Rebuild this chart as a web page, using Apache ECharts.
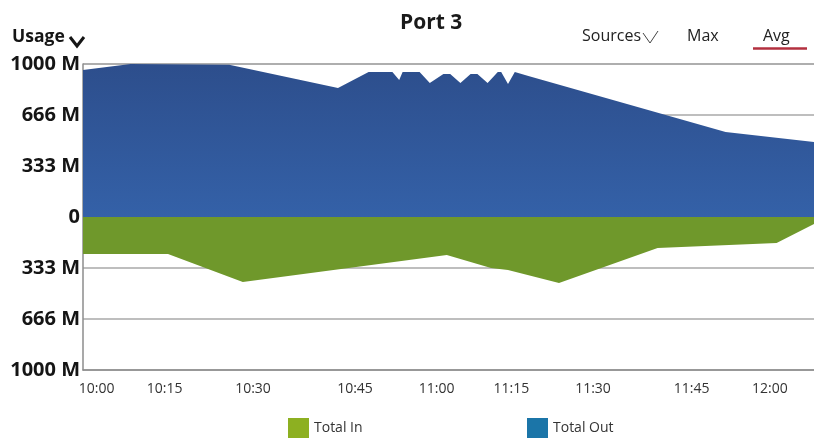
<!DOCTYPE html>
<html><head><meta charset="utf-8">
<script src="https://cdn.jsdelivr.net/npm/echarts@6/dist/echarts.min.js"></script>
<style>html,body{margin:0;padding:0;background:#fff}#c{width:814px;height:438px}</style>
</head><body><div id="c"></div>
<script>
// ---- data ----
const chartTitle = 'Port 3';
const xTickLabels = ['10:00','10:15','10:30','10:45','11:00','11:15','11:30','11:45','12:00'];
const xTickSamples = [4, 24, 50, 80, 104, 126, 150, 179, 202];
const sampleCount = 215;
const yTickLabels = ['1000 M','666 M','333 M','0','333 M','666 M','1000 M'];
const outSamples = [0, 14, 43, 75, 84, 91, 93, 94, 99, 102, 106, 108, 111, 114, 116, 119, 122, 123, 125, 127, 131, 189, 215];
const outValues  = [961, 1000, 995, 843, 948, 948, 895, 948, 948, 876, 935, 935, 876, 935, 935, 876, 948, 948, 869, 948, 922, 556, 490];
const inSamples = [0, 25, 47, 107, 120, 125, 140, 169, 204, 215];
const inValues  = [-242, -242, -425, -248, -333, -346, -431, -203, -170, -46];
const seriesNames = ['Total In', 'Total Out'];
const menuItems = ['Sources', 'Max', 'Avg'];

// ---- chart ----
const FONT = '"Open Sans", "Noto Sans", sans-serif';
const chart = echarts.init(document.getElementById('c'));
const pair = (xs, ys) => xs.map((x, i) => [x, ys[i]]);

chart.setOption({
  animation: false,
  backgroundColor: '#ffffff',
  title: {
    text: chartTitle, left: 395, top: 8,
    textStyle: { fontFamily: FONT, fontSize: 21, fontWeight: 'bold', color: '#1a1a1a' }
  },
  legend: [
    { data: [seriesNames[0]], left: 283, top: 413, icon: 'rect', itemWidth: 21, itemHeight: 20,
      textStyle: { fontFamily: FONT, fontSize: 14, color: '#333' } },
    { data: [seriesNames[1]], left: 522, top: 413, icon: 'rect', itemWidth: 21, itemHeight: 20,
      textStyle: { fontFamily: FONT, fontSize: 14, color: '#333' } }
  ],
  grid: { left: 83, right: 0, top: 64, bottom: 68, containLabel: false },
  xAxis: {
    type: 'value', min: 0, max: sampleCount,
    axisLine: { onZero: false, lineStyle: { color: '#8c8c8c', width: 1.5 } },
    axisTick: { show: false },
    splitLine: { show: false },
    axisLabel: {
      customValues: xTickSamples,
      formatter: v => xTickLabels[xTickSamples.indexOf(v)] || '',
      fontFamily: FONT, fontSize: 14, color: '#333', margin: 12
    }
  },
  yAxis: {
    type: 'value', min: -1000, max: 1000, interval: 1000 / 3,
    axisLine: { show: true, lineStyle: { color: '#8c8c8c', width: 1.5 } },
    axisTick: { show: false },
    splitLine: { show: true, lineStyle: { color: '#a8a8a8', width: 1.5 } },
    axisLabel: {
      formatter: v => yTickLabels[3 - Math.round(v * 3 / 1000)],
      fontFamily: FONT, fontSize: 20, fontWeight: 'bold', color: '#151515', margin: 3
    }
  },
  series: [
    { name: seriesNames[0], type: 'line', data: pair(inSamples, inValues), symbol: 'none',
      lineStyle: { width: 0 }, itemStyle: { color: '#8db021' },
      areaStyle: { color: '#6f982b', opacity: 1 }, z: 3 },
    { name: seriesNames[1], type: 'line', data: pair(outSamples, outValues), symbol: 'none',
      lineStyle: { width: 0 }, itemStyle: { color: '#1b75a8' },
      areaStyle: { opacity: 1, color: new echarts.graphic.LinearGradient(0, 0, 0, 1, [
        { offset: 0, color: '#2d4e8c' }, { offset: 1, color: '#3461a8' }]) }, z: 3 }
  ],
  graphic: [
    { type: 'text', x: 12, y: 37, style: { text: 'Usage', font: 'bold 17.5px ' + FONT, fill: '#151515', verticalAlign: 'middle' } },
    { type: 'polyline', shape: { points: [[70, 37], [77, 46], [84, 37]] }, style: { stroke: '#151515', lineWidth: 3, fill: null } },
    { type: 'text', x: 582, y: 36, style: { text: menuItems[0], font: '16px ' + FONT, fill: '#222', verticalAlign: 'middle' } },
    { type: 'polyline', shape: { points: [[643, 33], [650, 43], [658, 31]] }, style: { stroke: '#444', lineWidth: 1, fill: null } },
    { type: 'text', x: 687, y: 36, style: { text: menuItems[1], font: '16px ' + FONT, fill: '#222', verticalAlign: 'middle' } },
    { type: 'text', x: 763, y: 36, style: { text: menuItems[2], font: '16px ' + FONT, fill: '#222', verticalAlign: 'middle' } },
    { type: 'line', shape: { x1: 753, y1: 48.5, x2: 807, y2: 48.5 }, style: { stroke: '#b3303f', lineWidth: 2.5 } }
  ]
});
</script></body></html>
